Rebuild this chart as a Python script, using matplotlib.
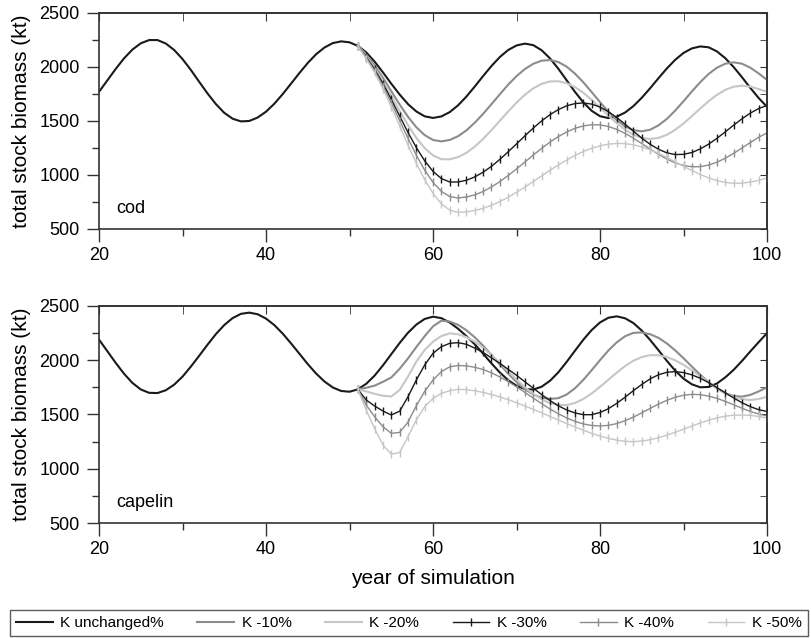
import numpy as np
import matplotlib.pyplot as plt
from matplotlib.ticker import NullFormatter

plt.rcParams['font.family'] = ['Liberation Sans', 'DejaVu Sans']

# years of simulation
years_all = np.arange(20, 101)
years_k = np.arange(51, 101)

labels = ['K unchanged%', 'K -10%', 'K -20%', 'K -30%', 'K -40%', 'K -50%']

# cod, total stock biomass (kt)
cod_unchanged = [1770, 1876, 1982, 2080, 2161, 2219, 2249, 2249, 2217, 2157,
                 2073, 1972, 1862, 1754, 1656, 1575, 1521, 1496, 1500, 1532,
                 1586, 1660, 1749, 1846, 1944, 2037, 2118, 2180, 2221, 2237,
                 2228, 2195, 2135, 2050, 1950, 1845, 1745, 1656, 1588, 1543,
                 1528, 1542, 1582, 1645, 1726, 1819, 1916, 2009, 2092, 2157,
                 2199, 2216, 2202, 2155, 2080, 1984, 1877, 1769, 1672, 1594,
                 1544, 1527, 1540, 1578, 1638, 1715, 1803, 1896, 1986, 2066,
                 2130, 2172, 2190, 2182, 2144, 2081, 1999, 1905, 1806, 1712,
                 1631]
cod_k10 = [2195, 2115, 2015, 1900, 1776, 1652, 1539, 1442, 1369, 1324,
           1311, 1324, 1359, 1413, 1484, 1566, 1656, 1747, 1836, 1915,
           1981, 2029, 2058, 2064, 2046, 2003, 1938, 1858, 1767, 1674,
           1586, 1509, 1450, 1415, 1404, 1419, 1459, 1519, 1596, 1683,
           1773, 1859, 1935, 1993, 2030, 2043, 2030, 1993, 1940, 1880]
cod_k20 = [2195, 2100, 1993, 1866, 1731, 1593, 1461, 1344, 1248, 1181,
           1146, 1145, 1165, 1205, 1263, 1334, 1415, 1502, 1588, 1670,
           1743, 1802, 1844, 1866, 1868, 1850, 1813, 1761, 1695, 1624,
           1550, 1480, 1420, 1373, 1343, 1333, 1343, 1372, 1418, 1477,
           1545, 1615, 1683, 1742, 1788, 1817, 1827, 1818, 1795, 1770]
cod_k30 = [2195, 2092, 1979, 1846, 1699, 1546, 1394, 1254, 1131, 1033,
           967, 935, 935, 951, 982, 1026, 1080, 1144, 1215, 1288,
           1362, 1434, 1500, 1558, 1605, 1640, 1661, 1667, 1656, 1629,
           1586, 1532, 1470, 1405, 1341, 1284, 1238, 1205, 1189, 1191,
           1208, 1241, 1285, 1339, 1399, 1461, 1520, 1573, 1615, 1644]
cod_k40 = [2195, 2085, 1966, 1825, 1669, 1504, 1339, 1183, 1044, 931,
           848, 800, 787, 796, 816, 847, 889, 938, 995, 1056,
           1120, 1184, 1246, 1304, 1355, 1398, 1432, 1454, 1465, 1464,
           1449, 1422, 1385, 1341, 1291, 1240, 1191, 1147, 1112, 1088,
           1076, 1077, 1092, 1118, 1155, 1200, 1250, 1300, 1349, 1390]
cod_k50 = [2195, 2075, 1949, 1799, 1632, 1454, 1277, 1108, 957, 829,
           733, 674, 654, 658, 671, 691, 719, 754, 794, 840,
           888, 939, 991, 1043, 1092, 1138, 1181, 1217, 1247, 1270,
           1285, 1292, 1290, 1279, 1260, 1233, 1200, 1162, 1121, 1080,
           1041, 1004, 973, 948, 931, 923, 924, 934, 950, 972]

# capelin, total stock biomass (kt)
cap_unchanged = [2188, 2081, 1974, 1874, 1790, 1730, 1699, 1697, 1723, 1774,
                 1848, 1940, 2040, 2142, 2239, 2322, 2386, 2425, 2436, 2421,
                 2381, 2321, 2243, 2153, 2058, 1963, 1876, 1803, 1748, 1716,
                 1709, 1731, 1782, 1857, 1951, 2054, 2157, 2251, 2326, 2378,
                 2399, 2385, 2345, 2288, 2220, 2145, 2059, 1969, 1886, 1815,
                 1764, 1734, 1729, 1755, 1809, 1887, 1983, 2086, 2187, 2276,
                 2346, 2389, 2402, 2384, 2340, 2271, 2185, 2090, 1993, 1903,
                 1829, 1777, 1750, 1753, 1785, 1841, 1910, 1992, 2080, 2165,
                 2248]
cap_k10 = [1731, 1745, 1765, 1800, 1840, 1920, 2015, 2120, 2220, 2310,
           2362, 2354, 2324, 2274, 2209, 2132, 2047, 1960, 1876, 1799,
           1734, 1684, 1654, 1643, 1650, 1683, 1741, 1818, 1907, 2000,
           2088, 2163, 2219, 2250, 2254, 2238, 2204, 2153, 2089, 2017,
           1940, 1865, 1797, 1739, 1695, 1670, 1664, 1680, 1712, 1750]
cap_k20 = [1731, 1712, 1690, 1672, 1665, 1725, 1848, 1986, 2093, 2169,
           2221, 2246, 2237, 2211, 2169, 2113, 2046, 1973, 1896, 1821,
           1750, 1689, 1639, 1605, 1587, 1587, 1606, 1642, 1693, 1754,
           1819, 1885, 1945, 1994, 2028, 2045, 2044, 2028, 1998, 1956,
           1906, 1851, 1795, 1743, 1697, 1663, 1641, 1633, 1642, 1664]
cap_k30 = [1731, 1633, 1578, 1532, 1495, 1530, 1663, 1817, 1955, 2062,
           2123, 2154, 2160, 2145, 2110, 2070, 2020, 1970, 1915, 1860,
           1800, 1742, 1683, 1628, 1580, 1542, 1514, 1498, 1498, 1518,
           1553, 1602, 1659, 1719, 1776, 1827, 1865, 1888, 1894, 1885,
           1864, 1833, 1793, 1747, 1699, 1652, 1608, 1572, 1544, 1528]
cap_k40 = [1731, 1587, 1480, 1388, 1327, 1335, 1430, 1580, 1712, 1817,
           1894, 1938, 1950, 1947, 1934, 1913, 1883, 1845, 1802, 1754,
           1703, 1651, 1600, 1551, 1507, 1468, 1437, 1413, 1399, 1394,
           1400, 1416, 1443, 1476, 1515, 1556, 1595, 1630, 1658, 1677,
           1685, 1682, 1669, 1648, 1620, 1589, 1557, 1528, 1504, 1487]
cap_k50 = [1731, 1540, 1370, 1220, 1135, 1150, 1296, 1449, 1572, 1648,
           1694, 1718, 1731, 1728, 1718, 1703, 1684, 1661, 1636, 1608,
           1578, 1547, 1515, 1482, 1449, 1416, 1385, 1355, 1327, 1302,
           1281, 1264, 1253, 1250, 1256, 1268, 1286, 1310, 1336, 1365,
           1394, 1422, 1447, 1468, 1484, 1493, 1495, 1492, 1482, 1468]

colors = ['#1a1a1a', '#8c8c8c', '#c6c6c6', '#1a1a1a', '#8c8c8c', '#c6c6c6']
axcol = '#333333'

fig = plt.figure(figsize=(8.11, 6.38), dpi=100)
ax1 = fig.add_axes([0.1221, 0.6411, 0.8237, 0.3386])
ax2 = fig.add_axes([0.1221, 0.1798, 0.8237, 0.3411])


def draw(ax, unchanged, series, name):
    ax.plot(years_all, unchanged, color=colors[0], lw=1.5, label=labels[0])
    for i, vals in enumerate(series):
        c = colors[i + 1]
        if i < 2:
            ax.plot(years_k, vals, color=c, lw=1.5, label=labels[i + 1])
        else:
            # the -30/-40/-50 runs carry a tick mark on every year
            ax.plot(years_k, vals, color=c, lw=1.0, marker='|', ms=6, mew=1.0,
                    label=labels[i + 1])
    ax.set_xlim(20, 100)
    ax.set_ylim(500, 2500)
    ax.set_xticks([20, 40, 60, 80, 100])
    ax.set_xticks([30, 50, 70, 90], minor=True)
    ax.set_yticks([500, 1000, 1500, 2000, 2500])
    ax.set_yticks([750, 1250, 1750, 2250], minor=True)
    ax.tick_params(which='both', direction='out', top=False, right=False,
                   color=axcol, labelsize=13, width=1)
    ax.tick_params(which='major', length=9)
    ax.tick_params(which='minor', length=5)
    ax.tick_params(axis='x', pad=4)
    ax.tick_params(axis='y', pad=5)
    for s in ax.spines.values():
        s.set_color(axcol)
        s.set_linewidth(1.2)
    # top and right ticks point inwards
    secx = ax.secondary_xaxis('top')
    secx.set_xticks([20, 40, 60, 80, 100])
    secx.set_xticks([30, 50, 70, 90], minor=True)
    secx.xaxis.set_major_formatter(NullFormatter())
    secx.tick_params(which='both', direction='in', length=6, color=axcol)
    secx.spines['top'].set_color(axcol)
    secx.spines['top'].set_linewidth(1.2)
    secy = ax.secondary_yaxis('right')
    secy.set_yticks([500, 1000, 1500, 2000, 2500])
    secy.set_yticks([750, 1250, 1750, 2250], minor=True)
    secy.yaxis.set_major_formatter(NullFormatter())
    secy.tick_params(which='both', direction='in', length=5, color=axcol)
    secy.spines['right'].set_color(axcol)
    secy.spines['right'].set_linewidth(1.2)
    ax.set_ylabel('total stock biomass (kt)', fontsize=15, labelpad=6)
    ax.text(0.026, 0.075, name, transform=ax.transAxes, fontsize=13,
            va='baseline', ha='left')


draw(ax1, cod_unchanged, [cod_k10, cod_k20, cod_k30, cod_k40, cod_k50], 'cod')
draw(ax2, cap_unchanged, [cap_k10, cap_k20, cap_k30, cap_k40, cap_k50], 'capelin')
ax2.set_xlabel('year of simulation', fontsize=15, labelpad=8)

handles, labs = ax2.get_legend_handles_labels()
leg = fig.legend(handles, labs, loc='lower left', ncol=6, mode='expand',
                 bbox_to_anchor=(10 / 811, 2 / 638, 798 / 811, 30 / 638),
                 borderaxespad=0, fancybox=False, edgecolor=axcol,
                 handlelength=2.4, handletextpad=0.5, columnspacing=1.0,
                 fontsize=11)
leg.get_frame().set_linewidth(1.0)

fig.savefig('out.png', dpi=100)
